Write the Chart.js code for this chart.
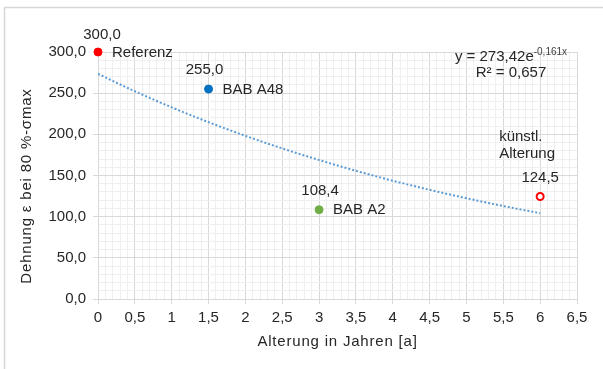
<!DOCTYPE html>
<html>
<head>
<meta charset="utf-8">
<script src="https://cdn.jsdelivr.net/npm/chart.js@4.4.1/dist/chart.umd.min.js"></script>
<style>
html,body{margin:0;padding:0;background:#fff;}
#wrap{width:603px;height:369px;position:relative;}
</style>
</head>
<body>
<div id="wrap"><canvas id="c" width="603" height="369"></canvas></div>
<script>
// ---- data ----
const pointNames = [['Referenz'], ['BAB A48'], ['BAB A2'], ['künstl.', 'Alterung']];
const pointAges = [0, 1.5, 3, 6];
const pointValues = [300.0, 255.0, 108.4, 124.5];

const trendAges = [0, 0.5, 1, 1.5, 2, 2.5, 3, 3.5, 4, 4.5, 5, 5.5, 6];
const trendValues = [273.4, 252.3, 232.8, 214.8, 198.2, 182.9, 168.8, 155.7, 143.7, 132.6, 122.4, 112.9, 104.2];

const trendEquation = 'y = 273,42e';
const trendExponent = '-0,161x';
const trendR2 = 'R² = 0,657';

const xTitle = 'Alterung in Jahren [a]';
const yTitle = 'Dehnung ε bei 80 %-σmax';
const xRange = [0, 6.5];
const yRange = [0, 300];

// ---- styling ----
const FONT = "'Liberation Sans', Arial, sans-serif";
const TXT = '#262626';
const MAJOR = '#D9D9D9';
const MINOR = '#EFEFEF';

const isMajorX = v => Math.abs(v * 2 - Math.round(v * 2)) < 1e-6;
const isMajorY = v => Math.abs(v / 50 - Math.round(v / 50)) < 1e-6;
const fmtComma = (v, d) => (d == null ? String(+v.toFixed(2)) : v.toFixed(d)).replace('.', ',');

const pointFill = ['#FF0000', '#0070C0', '#70AD47', '#FFFFFF'];
const pointStroke = ['#FF0000', '#0070C0', '#70AD47', '#FF0000'];
const pointBorderW = [1, 1, 1, 2];
const pointR = [4, 4, 4, 3.5];

const labelPlugin = {
  id: 'labels',
  beforeDraw(chart) {
    const ctx = chart.ctx;
    ctx.save();
    ctx.fillStyle = '#FFFFFF';
    ctx.fillRect(0, 0, chart.width, chart.height);
    ctx.strokeStyle = '#D6D6D6';
    ctx.lineWidth = 1.5;
    ctx.strokeRect(4.5, 7.5, 800, 800);
    ctx.restore();
  },
  afterDatasetsDraw(chart, args, opts) {
    const ctx = chart.ctx;
    const xs = chart.scales.x, ys = chart.scales.y;
    const ca = chart.chartArea;
    ctx.save();
    ctx.fillStyle = TXT;
    ctx.font = '15px ' + FONT;
    ctx.textBaseline = 'middle';
    pointAges.forEach((a, i) => {
      const px = xs.getPixelForValue(a);
      const py = ys.getPixelForValue(pointValues[i]);
      const vo = opts.valueOffsets[i];
      ctx.textAlign = 'center';
      ctx.fillText(fmtComma(pointValues[i], 1), px + vo[0], py + vo[1]);
      const lines = pointNames[i];
      ctx.textAlign = 'left';
      if (opts.namePlacement[i] === 'right') {
        ctx.fillText(lines[0], px + 14, py + 0.5);
      } else {
        lines.forEach((ln, k) => {
          ctx.fillText(ln, px - 41, py - 60 + k * 17);
        });
      }
    });
    // trendline equation
    const cx = ca.right - 66;
    const y1 = ca.top + 5;
    ctx.font = '15px ' + FONT;
    const w1 = ctx.measureText(trendEquation).width;
    ctx.font = '10px ' + FONT;
    const w2 = ctx.measureText(trendExponent).width;
    const startX = cx - (w1 + w2) / 2;
    ctx.textAlign = 'left';
    ctx.font = '15px ' + FONT;
    ctx.fillText(trendEquation, startX, y1);
    ctx.font = '10px ' + FONT;
    ctx.fillStyle = '#404040';
    ctx.fillText(trendExponent, startX + w1, y1 - 5);
    ctx.fillStyle = TXT;
    ctx.font = '15px ' + FONT;
    ctx.textAlign = 'center';
    ctx.fillText(trendR2, cx, y1 + 15.5);
    // axis titles
    ctx.letterSpacing = '0.8px';
    ctx.fillText(xTitle, (ca.left + ca.right) / 2, ca.bottom + 43);
    ctx.save();
    ctx.translate(27, (ca.top + ca.bottom) / 2 + 10.5);
    ctx.rotate(-Math.PI / 2);
    ctx.textAlign = 'center';
    ctx.fillText(yTitle, 0, 0);
    ctx.restore();
    ctx.restore();
  }
};

new Chart(document.getElementById('c'), {
  type: 'scatter',
  data: {
    datasets: [
      {
        label: 'Messwerte',
        data: pointAges.map((a, i) => ({ x: a, y: pointValues[i] })),
        backgroundColor: pointFill,
        borderColor: pointStroke,
        borderWidth: pointBorderW,
        pointRadius: pointR,
        pointHoverRadius: pointR,
        showLine: false,
        clip: false,
        order: 0
      },
      {
        label: 'Trend',
        data: trendAges.map((a, i) => ({ x: a, y: trendValues[i] })),
        borderColor: '#5B9BD5',
        borderWidth: 2,
        borderDash: [2, 2],
        pointRadius: 0,
        showLine: true,
        tension: 0.4,
        cubicInterpolationMode: 'monotone',
        fill: false,
        order: 1
      }
    ]
  },
  options: {
    responsive: false,
    animation: false,
    devicePixelRatio: 1,
    layout: { padding: { left: 0, top: 52, right: 26, bottom: 17 } },
    plugins: {
      legend: { display: false },
      tooltip: { enabled: false },
      labels: {
        valueOffsets: [[4, -17], [-4, -19], [1, -19], [0, -19]],
        namePlacement: ['right', 'right', 'right', 'above']
      }
    },
    scales: {
      x: {
        type: 'linear',
        min: xRange[0], max: xRange[1],
        afterFit(s) { s.height = 53; },
        border: { color: MAJOR, width: 1 },
        grid: {
          color: c => isMajorX(c.tick.value) ? MAJOR : MINOR,
          tickColor: c => isMajorX(c.tick.value) ? MAJOR : 'rgba(0,0,0,0)',
          tickLength: 5,
          lineWidth: 1
        },
        ticks: {
          stepSize: 0.1,
          maxTicksLimit: 1000,
          autoSkip: false,
          maxRotation: 0,
          padding: 5,
          color: TXT,
          font: { family: FONT, size: 15 },
          callback: v => isMajorX(v) ? fmtComma(v) : ''
        }
      },
      y: {
        type: 'linear',
        min: yRange[0], max: yRange[1],
        afterFit(s) { s.width = 98; },
        border: { color: MAJOR, width: 1 },
        grid: {
          color: c => isMajorY(c.tick.value) ? MAJOR : MINOR,
          tickColor: c => isMajorY(c.tick.value) ? MAJOR : 'rgba(0,0,0,0)',
          tickLength: 5,
          lineWidth: 1
        },
        ticks: {
          stepSize: 10,
          maxTicksLimit: 1000,
          autoSkip: false,
          padding: 7,
          color: TXT,
          font: { family: FONT, size: 15 },
          callback: v => isMajorY(v) ? fmtComma(v, 1) : ''
        }
      }
    }
  },
  plugins: [labelPlugin]
});
</script>
</body>
</html>
